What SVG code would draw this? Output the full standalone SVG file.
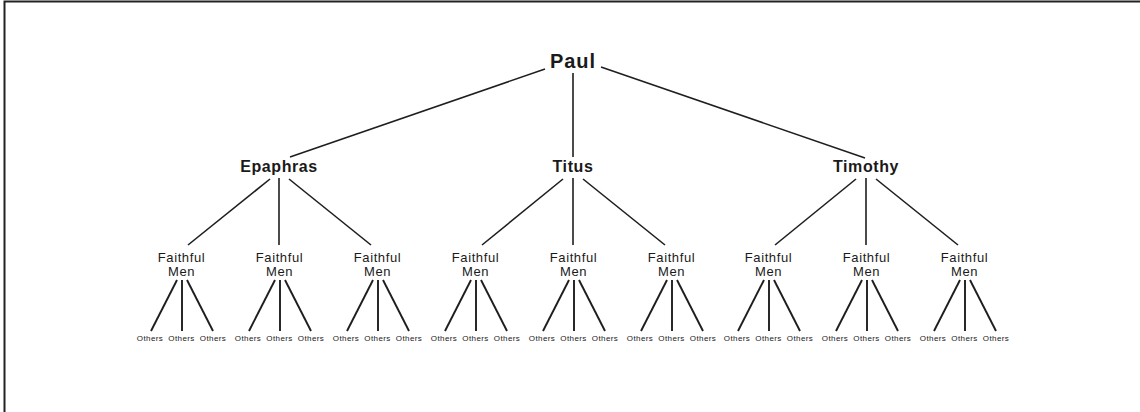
<svg xmlns="http://www.w3.org/2000/svg" width="1140" height="412" viewBox="0 0 1140 412">
<style>
text{font-family:"Liberation Sans",Arial,sans-serif;fill:#1a1a1a;text-anchor:middle}
.l1{font-size:20px;font-weight:bold;letter-spacing:1px}
.l2{font-size:16px;font-weight:bold;letter-spacing:0.6px}
.l3{font-size:13px;letter-spacing:0.6px}
.l4{font-size:8px;letter-spacing:0.4px}
.c line{stroke:#1e1e1e;stroke-width:1.6}
.c .o line{stroke-width:1.9}
</style>
<rect width="1140" height="412" fill="#fff"/>
<polyline points="4.5,412 4.5,1.5 1140,1.5" fill="none" stroke="#222" stroke-width="2"/>
<g class="c" id="connectors">
<line x1="545" y1="69" x2="290" y2="157"/>
<line x1="573" y1="73" x2="573" y2="157"/>
<line x1="601" y1="67" x2="865" y2="158"/>
<g id="l2c">
<line x1="270" y1="179" x2="188" y2="245"/><line x1="279" y1="178" x2="279" y2="245"/><line x1="289" y1="179" x2="371" y2="245"/>
<line x1="563" y1="179" x2="482" y2="245"/><line x1="573" y1="178" x2="573" y2="245"/><line x1="583" y1="179" x2="665" y2="245"/>
<line x1="856" y1="179" x2="775" y2="245"/><line x1="866" y1="178" x2="866" y2="245"/><line x1="876" y1="179" x2="958" y2="245"/>
</g>
<g class="o">
<line x1="177" y1="280" x2="151" y2="331"/><line x1="182" y1="280" x2="182" y2="331"/><line x1="187" y1="280" x2="213" y2="331"/>
<line x1="275" y1="280" x2="249" y2="331"/><line x1="280" y1="280" x2="280" y2="331"/><line x1="285" y1="280" x2="311" y2="331"/>
<line x1="373" y1="280" x2="347" y2="331"/><line x1="378" y1="280" x2="378" y2="331"/><line x1="383" y1="280" x2="409" y2="331"/>
<line x1="471" y1="280" x2="445" y2="331"/><line x1="476" y1="280" x2="476" y2="331"/><line x1="481" y1="280" x2="507" y2="331"/>
<line x1="569" y1="280" x2="543" y2="331"/><line x1="574" y1="280" x2="574" y2="331"/><line x1="579" y1="280" x2="605" y2="331"/>
<line x1="667" y1="280" x2="641" y2="331"/><line x1="672" y1="280" x2="672" y2="331"/><line x1="677" y1="280" x2="703" y2="331"/>
<line x1="764" y1="280" x2="738" y2="331"/><line x1="769" y1="280" x2="769" y2="331"/><line x1="774" y1="280" x2="800" y2="331"/>
<line x1="862" y1="280" x2="836" y2="331"/><line x1="867" y1="280" x2="867" y2="331"/><line x1="872" y1="280" x2="898" y2="331"/>
<line x1="960" y1="280" x2="934" y2="331"/><line x1="965" y1="280" x2="965" y2="331"/><line x1="970" y1="280" x2="996" y2="331"/>
</g>
</g>
<g id="paul"><text class="l1" x="573" y="68">Paul</text></g>
<g id="epaphras"><text class="l2" x="279" y="172">Epaphras</text></g>
<g id="titus"><text class="l2" x="573" y="172">Titus</text></g>
<g id="timothy"><text class="l2" x="866" y="172">Timothy</text></g>
<g id="fm1"><text class="l3" x="181.5" y="262">Faithful</text><text class="l3" x="181.5" y="276">Men</text></g>
<g id="fm2"><text class="l3" x="279.5" y="262">Faithful</text><text class="l3" x="279.5" y="276">Men</text></g>
<g id="fm3"><text class="l3" x="377.5" y="262">Faithful</text><text class="l3" x="377.5" y="276">Men</text></g>
<g id="fm4"><text class="l3" x="475.5" y="262">Faithful</text><text class="l3" x="475.5" y="276">Men</text></g>
<g id="fm5"><text class="l3" x="573.5" y="262">Faithful</text><text class="l3" x="573.5" y="276">Men</text></g>
<g id="fm6"><text class="l3" x="671.5" y="262">Faithful</text><text class="l3" x="671.5" y="276">Men</text></g>
<g id="fm7"><text class="l3" x="768.5" y="262">Faithful</text><text class="l3" x="768.5" y="276">Men</text></g>
<g id="fm8"><text class="l3" x="866.5" y="262">Faithful</text><text class="l3" x="866.5" y="276">Men</text></g>
<g id="fm9"><text class="l3" x="964.5" y="262">Faithful</text><text class="l3" x="964.5" y="276">Men</text></g>
<g id="others">
<text class="l4" x="150" y="341">Others</text><text class="l4" x="181.5" y="341">Others</text><text class="l4" x="213" y="341">Others</text>
<text class="l4" x="248" y="341">Others</text><text class="l4" x="279.5" y="341">Others</text><text class="l4" x="311" y="341">Others</text>
<text class="l4" x="346" y="341">Others</text><text class="l4" x="377.5" y="341">Others</text><text class="l4" x="409" y="341">Others</text>
<text class="l4" x="444" y="341">Others</text><text class="l4" x="475.5" y="341">Others</text><text class="l4" x="507" y="341">Others</text>
<text class="l4" x="542" y="341">Others</text><text class="l4" x="573.5" y="341">Others</text><text class="l4" x="605" y="341">Others</text>
<text class="l4" x="640" y="341">Others</text><text class="l4" x="671.5" y="341">Others</text><text class="l4" x="703" y="341">Others</text>
<text class="l4" x="737" y="341">Others</text><text class="l4" x="768.5" y="341">Others</text><text class="l4" x="800" y="341">Others</text>
<text class="l4" x="835" y="341">Others</text><text class="l4" x="866.5" y="341">Others</text><text class="l4" x="898" y="341">Others</text>
<text class="l4" x="933" y="341">Others</text><text class="l4" x="964.5" y="341">Others</text><text class="l4" x="996" y="341">Others</text>
</g>
</svg>
